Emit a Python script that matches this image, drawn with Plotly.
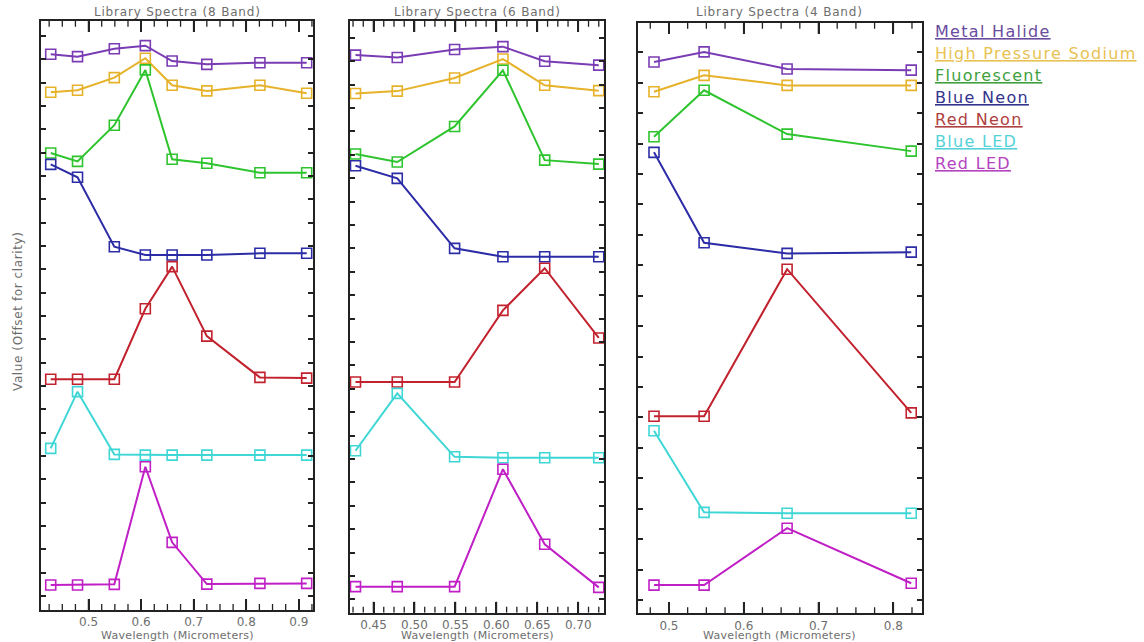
import math
import plotly.graph_objects as go

# Library spectra of artificial light sources, offset vertically for clarity
series_names = ["Metal Halide", "High Pressure Sodium", "Fluorescent",
                "Blue Neon", "Red Neon", "Blue LED", "Red LED"]
line_colors = ["#7a3cb4", "#e6b22a", "#2ec42e", "#2c2ca6",
               "#c2222e", "#3fd6d6", "#c01fc6"]
label_colors = ["#6a4c9e", "#e8c252", "#3fa03f", "#34348e",
                "#b04040", "#55d2d8", "#b442c0"]

# band centres (micrometers)
wl_8band = [0.428, 0.479, 0.549, 0.608, 0.659, 0.725, 0.826, 0.915]
wl_6band = [0.428, 0.479, 0.549, 0.608, 0.659, 0.725]
wl_4band = [0.480, 0.547, 0.658, 0.824]

# offset values, 8-band sensor
vals_8band = [
    [23.22, 23.12, 23.46, 23.59, 22.93, 22.79, 22.86, 22.86],
    [21.59, 21.68, 22.22, 23.05, 21.89, 21.65, 21.89, 21.55],
    [18.99, 18.63, 20.18, 22.55, 18.72, 18.55, 18.14, 18.14],
    [18.50, 17.95, 14.97, 14.62, 14.62, 14.62, 14.69, 14.69],
    [9.29, 9.29, 9.29, 12.31, 14.12, 11.14, 9.37, 9.34],
    [6.33, 8.76, 6.07, 6.04, 6.04, 6.04, 6.04, 6.04],
    [0.47, 0.47, 0.50, 5.54, 2.30, 0.51, 0.54, 0.54],
]

# offset values, 6-band sensor
vals_6band = [
    [23.26, 23.16, 23.50, 23.62, 23.00, 22.83],
    [21.62, 21.72, 22.28, 23.09, 21.97, 21.74],
    [19.03, 18.69, 20.21, 22.61, 18.77, 18.60],
    [18.53, 17.99, 15.00, 14.64, 14.64, 14.64],
    [9.29, 9.29, 9.29, 12.35, 14.15, 11.17],
    [6.35, 8.80, 6.09, 6.05, 6.05, 6.05],
    [0.54, 0.54, 0.54, 5.56, 2.35, 0.51],
]

# offset values, 4-band sensor
vals_4band = [
    [17.68, 18.01, 17.45, 17.41],
    [16.70, 17.24, 16.91, 16.91],
    [15.22, 16.75, 15.31, 14.75],
    [14.71, 11.74, 11.39, 11.43],
    [6.04, 6.04, 10.87, 6.15],
    [5.56, 2.88, 2.85, 2.85],
    [0.49, 0.49, 2.36, 0.55],
]

panel_titles = ["Library Spectra (8 Band)", "Library Spectra (6 Band)",
                "Library Spectra (4 Band)"]
x_title = "Wavelength (Micrometers)"
y_title = "Value (Offset for clarity)"

W, H = 1144, 642
FONT = "DejaVu Sans"
GREY = "#6e6e6e"
AXC = "#222222"

# panel geometry in pixels: (left, right, top, bottom)
boxes = [(41, 313, 20.7, 610), (350, 604, 20.7, 612.7), (638.3, 921.7, 22.7, 613.3)]
x_ranges = [[0.4095, 0.927], [0.4213, 0.7314], [0.459, 0.838]]
x_dticks = [0.1, 0.05, 0.1]
x_formats = [".1f", ".2f", ".1f"]
y_ranges = [[-0.6, 24.66], [-0.573, 24.73], [-0.437, 18.97]]

panels = [(wl_8band, vals_8band), (wl_6band, vals_6band), (wl_4band, vals_4band)]


def spaced(txt, px):
    return '<span style="letter-spacing:%.1fpx">%s</span>' % (px, txt)


fig = go.Figure()
for p, (wl, vals) in enumerate(panels):
    sfx = "" if p == 0 else str(p + 1)
    for i, name in enumerate(series_names):
        fig.add_trace(go.Scatter(
            x=wl, y=vals[i], mode="lines+markers", name=name,
            xaxis="x" + sfx, yaxis="y" + sfx, showlegend=False,
            line=dict(color=line_colors[i], width=2),
            marker=dict(symbol="square-open", size=10,
                        color=line_colors[i], line=dict(width=1.6, color=line_colors[i])),
        ))

layout = dict(
    width=W, height=H, margin=dict(l=0, r=0, t=0, b=0),
    paper_bgcolor="white", plot_bgcolor="white", showlegend=False,
    font=dict(family=FONT, color=GREY, size=12),
)
annotations = []
for p in range(3):
    l, r, t, b = boxes[p]
    sfx = "" if p == 0 else str(p + 1)
    xd = [l / W, r / W]
    yd = [1 - b / H, 1 - t / H]
    layout["xaxis" + sfx] = dict(
        domain=xd, range=x_ranges[p], anchor="y" + sfx,
        showline=True, linecolor=AXC, linewidth=2, mirror="ticks",
        ticks="inside", ticklen=11, tickwidth=1.6, tickcolor=AXC,
        tickmode="linear", dtick=x_dticks[p], tick0=0,
        showgrid=False, zeroline=False,
        tickformat=x_formats[p],
        tickfont=dict(family=FONT, size=12, color=GREY),
    )
    layout["yaxis" + sfx] = dict(
        domain=yd, range=y_ranges[p], anchor="x" + sfx,
        showline=True, linecolor=AXC, linewidth=2, mirror="ticks",
        ticks="inside", ticklen=5, tickwidth=1.6, tickcolor=AXC,
        dtick=1, tick0=0, showticklabels=False,
        showgrid=False, zeroline=False,
    )

    # x tick marks (long and short) along the bottom and top of the box,
    # drawn as short segments in the panel's own coordinates
    ylo, yhi = y_ranges[p]
    per_px = (yhi - ylo) / (b - t)
    step = x_dticks[p] / 4
    lo, hi = x_ranges[p]
    for major in (True, False):
        length = (11 if major else 6) * per_px
        xs, ys = [], []
        for k in range(math.ceil(lo / step + 1e-9), math.floor(hi / step - 1e-9) + 1):
            if (k % 4 == 0) != major:
                continue
            xv = round(k * step, 6)
            xs += [xv, xv, None, xv, xv, None]
            ys += [ylo, ylo + length, None, yhi, yhi - length, None]
        fig.add_trace(go.Scatter(
            x=xs, y=ys, mode="lines", xaxis="x" + sfx, yaxis="y" + sfx,
            line=dict(color=AXC, width=1.6 if major else 1.3),
            hoverinfo="skip", showlegend=False, cliponaxis=False,
        ))

    cx = (l + r) / 2 / W
    annotations.append(dict(text=spaced(panel_titles[p], 0.8), x=cx, y=1 - 12 / H,
                            xref="paper", yref="paper", showarrow=False,
                            xanchor="center", yanchor="middle",
                            font=dict(family=FONT, size=12, color=GREY)))
    annotations.append(dict(text=spaced(x_title, 0.3), x=cx, y=1 - 635.5 / H,
                            xref="paper", yref="paper", showarrow=False,
                            xanchor="center", yanchor="middle",
                            font=dict(family=FONT, size=11, color=GREY)))

annotations.append(dict(text=spaced(y_title, 0.6), x=18 / W, y=1 - 312 / H, textangle=-90,
                        xref="paper", yref="paper", showarrow=False,
                        xanchor="center", yanchor="middle",
                        font=dict(family=FONT, size=12, color=GREY)))

# legend as coloured, underlined labels
for i, name in enumerate(series_names):
    annotations.append(dict(
        text='<span style="text-decoration:underline;letter-spacing:1.3px">'
             + name + "</span>",
        x=933 / W, y=1 - (31.5 + 22 * i) / H,
        xref="paper", yref="paper", showarrow=False,
        xanchor="left", yanchor="middle",
        font=dict(family=FONT, size=16, color=label_colors[i])))

layout["annotations"] = annotations
fig.update_layout(**layout)
fig.write_html("out.html")
